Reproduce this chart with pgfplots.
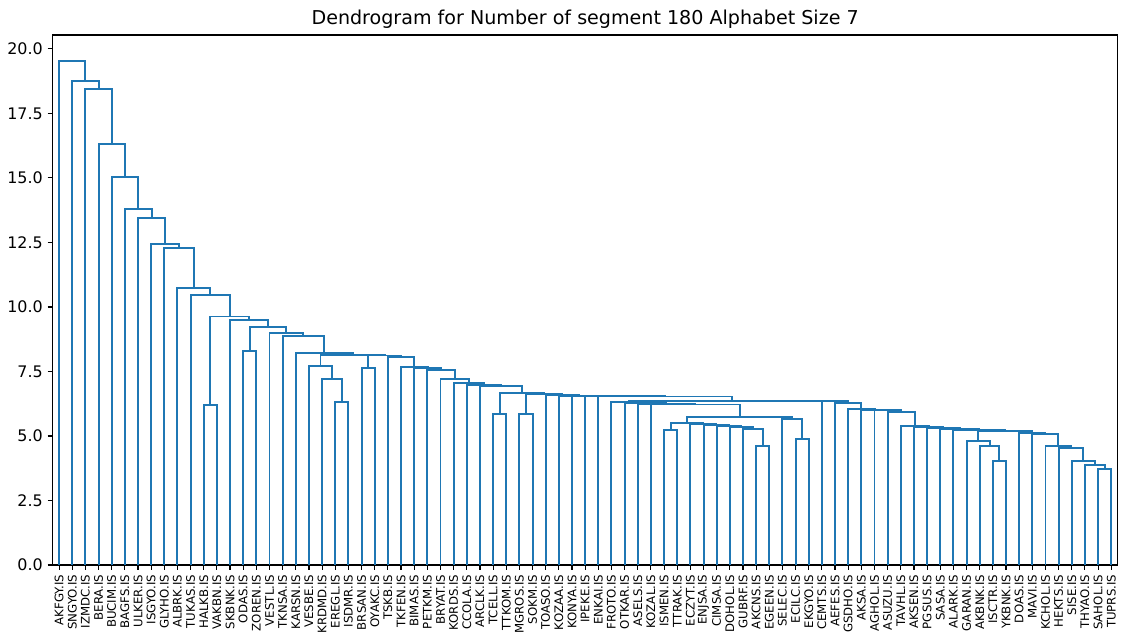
\documentclass[border=0pt]{standalone}
\usepackage{fontspec}
\setmainfont{DejaVu Sans}
\usepackage{pgfplots}
\pgfplotsset{compat=1.18}
\definecolor{linkblue}{HTML}{1F77B4}
\begin{document}
\begin{tikzpicture}[x=1bp,y=1bp]
\begin{axis}[
    scale only axis,
    width=767bp, height=381.6bp,
    xmin=0, xmax=810, ymin=0, ymax=20.54,
    axis line style={line width=0.8bp},
    tick style={black, line width=0.8bp},
    tick align=outside,
    major tick length=3.5bp,
    tick pos=left,
    ytick={0,2.5,...,20},
    yticklabel style={font=\fontsize{11.5}{11.5}\selectfont,
        /pgf/number format/.cd, fixed, fixed zerofill, precision=1, assume math mode=true},
    xtick={5,15,...,805},
    xticklabels={AKFGY.IS,SNGYO.IS,IZMDC.IS,BERA.IS,BUCIM.IS,BAGFS.IS,ULKER.IS,ISGYO.IS,GLYHO.IS,
        ALBRK.IS,TUKAS.IS,HALKB.IS,VAKBN.IS,SKBNK.IS,ODAS.IS,ZOREN.IS,VESTL.IS,TKNSA.IS,KARSN.IS,
        VESBE.IS,KRDMD.IS,EREGL.IS,ISDMR.IS,BRSAN.IS,OYAKC.IS,TSKB.IS,TKFEN.IS,BIMAS.IS,PETKM.IS,
        BRYAT.IS,KORDS.IS,CCOLA.IS,ARCLK.IS,TCELL.IS,TTKOM.IS,MGROS.IS,SOKM.IS,TOASO.IS,KOZAA.IS,
        KONYA.IS,IPEKE.IS,ENKAI.IS,FROTO.IS,OTKAR.IS,ASELS.IS,KOZAL.IS,ISMEN.IS,TTRAK.IS,ECZYT.IS,
        ENJSA.IS,CIMSA.IS,DOHOL.IS,GUBRF.IS,AKCNS.IS,EGEEN.IS,SELEC.IS,ECILC.IS,EKGYO.IS,CEMTS.IS,
        AEFES.IS,GSDHO.IS,AKSA.IS,AGHOL.IS,ASUZU.IS,TAVHL.IS,AKSEN.IS,PGSUS.IS,SASA.IS,ALARK.IS,
        GARAN.IS,AKBNK.IS,ISCTR.IS,YKBNK.IS,DOAS.IS,MAVI.IS,KCHOL.IS,HEKTS.IS,SISE.IS,THYAO.IS,
        SAHOL.IS,TUPRS.IS},
    xticklabel style={rotate=90, anchor=east, font=\fontsize{8.5}{8.5}\selectfont},
    title={Dendrogram for Number of segment 180 Alphabet Size 7},
    title style={font=\fontsize{13.8}{13.8}\selectfont, yshift=-4.5bp},
]
% one U per merge: (left,child) (left,h) (right,h) (right,child)
\addplot[linkblue, line width=1.4bp, unbounded coords=jump] coordinates {
(5,0) (5,19.55) (25.010,19.55) (25.010,18.75) (nan,nan)
(15,0) (15,18.75) (35.019,18.75) (35.019,18.44) (nan,nan)
(25,0) (25,18.44) (45.038,18.44) (45.038,16.32) (nan,nan)
(35,0) (35,16.32) (55.076,16.32) (55.076,15.04) (nan,nan)
(45,0) (45,15.04) (65.152,15.04) (65.152,13.79) (nan,nan)
(55,0) (55,13.79) (75.304,13.79) (75.304,13.44) (nan,nan)
(65,0) (65,13.44) (85.608,13.44) (85.608,12.43) (nan,nan)
(75,0) (75,12.43) (96.217,12.43) (96.217,12.29) (nan,nan)
(85,0) (85,12.29) (107.434,12.29) (107.434,10.74) (nan,nan)
(95,0) (95,10.74) (119.868,10.74) (119.868,10.47) (nan,nan)
(105,0) (105,10.47) (134.737,10.47) (134.737,9.63) (nan,nan)
(120,6.20) (120,9.63) (149.473,9.63) (149.473,9.50) (nan,nan)
(115,0) (115,6.20) (125,6.20) (125,0) (nan,nan)
(135,0) (135,9.50) (163.946,9.50) (163.946,9.21) (nan,nan)
(150,8.28) (150,9.21) (177.892,9.21) (177.892,8.98) (nan,nan)
(145,0) (145,8.28) (155,8.28) (155,0) (nan,nan)
(165,0) (165,8.98) (190.784,8.98) (190.784,8.88) (nan,nan)
(175,0) (175,8.88) (206.568,8.88) (206.568,8.20) (nan,nan)
(185,0) (185,8.20) (228.137,8.20) (228.137,8.15) (nan,nan)
(203.75,7.71) (203.75,8.15) (252.523,8.15) (252.523,8.12) (nan,nan)
(195,0) (195,7.71) (212.5,7.71) (212.5,7.21) (nan,nan)
(205,0) (205,7.21) (220,7.21) (220,6.33) (nan,nan)
(215,0) (215,6.33) (225,6.33) (225,0) (nan,nan)
(240,7.62) (240,8.12) (265.047,8.12) (265.047,8.06) (nan,nan)
(235,0) (235,7.62) (245,7.62) (245,0) (nan,nan)
(255,0) (255,8.06) (275.093,8.06) (275.093,7.66) (nan,nan)
(265,0) (265,7.66) (285.186,7.66) (285.186,7.62) (nan,nan)
(275,0) (275,7.62) (295.372,7.62) (295.372,7.57) (nan,nan)
(285,0) (285,7.57) (305.743,7.57) (305.743,7.20) (nan,nan)
(295,0) (295,7.20) (316.486,7.20) (316.486,7.07) (nan,nan)
(305,0) (305,7.07) (327.972,7.07) (327.972,6.98) (nan,nan)
(315,0) (315,6.98) (340.943,6.98) (340.943,6.92) (nan,nan)
(325,0) (325,6.92) (356.887,6.92) (356.887,6.65) (nan,nan)
(340,5.85) (340,6.65) (373.773,6.65) (373.773,6.62) (nan,nan)
(335,0) (335,5.85) (345,5.85) (345,0) (nan,nan)
(360,5.85) (360,6.62) (387.547,6.62) (387.547,6.58) (nan,nan)
(355,0) (355,5.85) (365,5.85) (365,0) (nan,nan)
(375,0) (375,6.58) (400.093,6.58) (400.093,6.56) (nan,nan)
(385,0) (385,6.56) (415.186,6.56) (415.186,6.55) (nan,nan)
(395,0) (395,6.55) (435.372,6.55) (435.372,6.54) (nan,nan)
(405,0) (405,6.54) (465.744,6.54) (465.744,6.53) (nan,nan)
(415,0) (415,6.53) (516.488,6.53) (516.488,6.37) (nan,nan)
(437.966,6.30) (437.966,6.37) (595.010,6.37) (595.010,6.34) (nan,nan)
(425,0) (425,6.30) (450.933,6.30) (450.933,6.28) (nan,nan)
(435,0) (435,6.28) (466.865,6.28) (466.865,6.25) (nan,nan)
(445,0) (445,6.25) (488.730,6.25) (488.730,6.22) (nan,nan)
(455,0) (455,6.22) (522.461,6.22) (522.461,5.75) (nan,nan)
(482.422,5.52) (482.422,5.75) (562.5,5.75) (562.5,5.65) (nan,nan)
(470,5.23) (470,5.52) (494.844,5.52) (494.844,5.47) (nan,nan)
(465,0) (465,5.23) (475,5.23) (475,0) (nan,nan)
(485,0) (485,5.47) (504.688,5.47) (504.688,5.42) (nan,nan)
(495,0) (495,5.42) (514.375,5.42) (514.375,5.38) (nan,nan)
(505,0) (505,5.38) (523.75,5.38) (523.75,5.33) (nan,nan)
(515,0) (515,5.33) (532.5,5.33) (532.5,5.28) (nan,nan)
(525,0) (525,5.28) (540,5.28) (540,4.61) (nan,nan)
(535,0) (535,4.61) (545,4.61) (545,0) (nan,nan)
(555,0) (555,5.65) (570,5.65) (570,4.88) (nan,nan)
(565,0) (565,4.88) (575,4.88) (575,0) (nan,nan)
(585,0) (585,6.34) (605.019,6.34) (605.019,6.29) (nan,nan)
(595,0) (595,6.29) (615.038,6.29) (615.038,6.04) (nan,nan)
(605,0) (605,6.04) (625.076,6.04) (625.076,6.02) (nan,nan)
(615,0) (615,6.02) (635.151,6.02) (635.151,6.00) (nan,nan)
(625,0) (625,6.00) (645.302,6.00) (645.302,5.94) (nan,nan)
(635,0) (635,5.94) (655.604,5.94) (655.604,5.40) (nan,nan)
(645,0) (645,5.40) (666.209,5.40) (666.209,5.36) (nan,nan)
(655,0) (655,5.36) (677.417,5.36) (677.417,5.32) (nan,nan)
(665,0) (665,5.32) (689.834,5.32) (689.834,5.28) (nan,nan)
(675,0) (675,5.28) (704.668,5.28) (704.668,5.24) (nan,nan)
(685,0) (685,5.24) (724.336,5.24) (724.336,5.18) (nan,nan)
(703.75,4.82) (703.75,5.18) (744.922,5.18) (744.922,5.12) (nan,nan)
(695,0) (695,4.82) (712.5,4.82) (712.5,4.62) (nan,nan)
(705,0) (705,4.62) (720,4.62) (720,4.02) (nan,nan)
(715,0) (715,4.02) (725,4.02) (725,0) (nan,nan)
(735,0) (735,5.12) (754.844,5.12) (754.844,5.08) (nan,nan)
(745,0) (745,5.08) (764.688,5.08) (764.688,4.60) (nan,nan)
(755,0) (755,4.60) (774.375,4.60) (774.375,4.52) (nan,nan)
(765,0) (765,4.52) (783.75,4.52) (783.75,4.02) (nan,nan)
(775,0) (775,4.02) (792.5,4.02) (792.5,3.88) (nan,nan)
(785,0) (785,3.88) (800,3.88) (800,3.72) (nan,nan)
(795,0) (795,3.72) (805,3.72) (805,0)
};
\end{axis}
\pgfresetboundingbox
\path[use as bounding box] (-37.8,-55.44) rectangle (769.3,406.8);
\end{tikzpicture}
\end{document}
